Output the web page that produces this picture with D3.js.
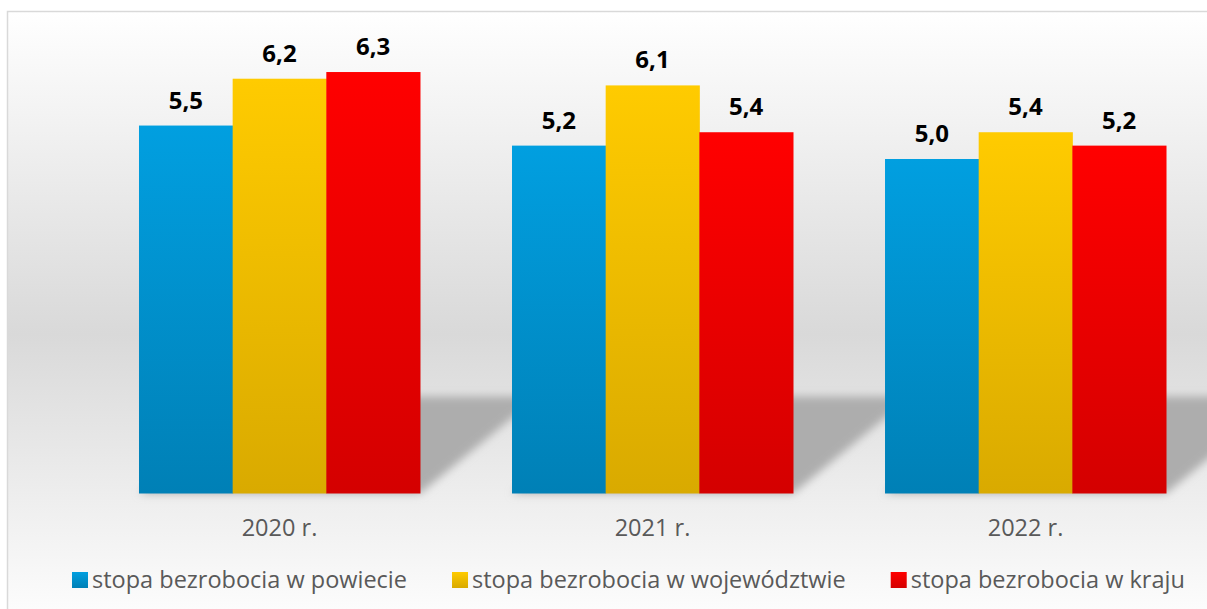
<!DOCTYPE html>
<html>
<head>
<meta charset="utf-8">
<script src="https://cdn.jsdelivr.net/npm/d3@7"></script>
<style>
  body { margin: 0; background: #fff; }
  text { font-family: "Open Sans", sans-serif; }
</style>
</head>
<body>
<script>
var width = 1207, height = 609;

var years = ["2020 r.", "2021 r.", "2022 r."];
var seriesNames = ["stopa bezrobocia w powiecie", "stopa bezrobocia w województwie", "stopa bezrobocia w kraju"];
var powiat = [5.5, 5.2, 5.0];
var wojewodztwo = [6.2, 6.1, 5.4];
var kraj = [6.3, 5.4, 5.2];
var topColors = ["#019fe0", "#ffcb00", "#ff0000"];
var bottomColors = ["#0080b6", "#d9aa00", "#d40000"];

var seriesValues = [powiat, wojewodztwo, kraj];

var svg = d3.select("body")
            .append("svg")
            .attr("width", width)
            .attr("height", height);

var defs = svg.append("defs");

// chart background: white -> grey -> white
var bg = defs.append("linearGradient")
             .attr("id", "bg")
             .attr("gradientUnits", "userSpaceOnUse")
             .attr("x1", 0).attr("y1", 11)
             .attr("x2", 0).attr("y2", 609);
bg.append("stop").attr("offset", "0%").attr("stop-color", "#ffffff");
bg.append("stop").attr("offset", "54%").attr("stop-color", "#d9d9d9");
bg.append("stop").attr("offset", "100%").attr("stop-color", "#fcfcfc");

seriesNames.forEach(function(s, i) {
    var g = defs.append("linearGradient")
                .attr("id", "grad" + i)
                .attr("x1", 0).attr("y1", 0)
                .attr("x2", 0).attr("y2", 1);
    g.append("stop").attr("offset", "0%").attr("stop-color", topColors[i]);
    g.append("stop").attr("offset", "100%").attr("stop-color", bottomColors[i]);
});

defs.append("filter")
    .attr("id", "blur")
    .attr("x", "-20%").attr("y", "-20%")
    .attr("width", "140%").attr("height", "140%")
    .append("feGaussianBlur")
    .attr("stdDeviation", 4.5);

svg.append("rect")
   .attr("x", 7.5)
   .attr("y", 11.5)
   .attr("width", 1230)
   .attr("height", 640)
   .attr("fill", "url(#bg)")
   .attr("stroke", "#d9d9d9")
   .attr("stroke-width", 1.5);

var x0 = d3.scaleBand()
           .domain(years)
           .range([93, 1212])
           .paddingInner(0.2467)
           .paddingOuter(0.1233);

var x1 = d3.scaleBand()
           .domain(d3.range(seriesNames.length))
           .range([0, x0.bandwidth()]);

var y = d3.scaleLinear()
          .domain([0, 7])
          .range([493.5, 25.2]);

// perspective shadow behind each group
var shadowDx = 118, shadowDy = 97;
svg.append("g")
   .attr("filter", "url(#blur)")
   .selectAll("polygon")
   .data(years).enter()
   .append("polygon")
   .attr("fill", "#adadad")
   .attr("points", function(d) {
       var a = x0(d), b = x0(d) + x0.bandwidth(), base = y(0);
       return [[a, base], [b, base], [b + shadowDx, base - shadowDy], [a + shadowDx, base - shadowDy]].join(" ");
   });

var groups = svg.selectAll(".group")
                .data(years).enter()
                .append("g")
                .attr("class", "group")
                .attr("transform", function(d) { return "translate(" + x0(d) + ",0)"; });

groups.selectAll("rect")
      .data(function(d, gi) { return seriesValues.map(function(v, si) { return {s: si, v: v[gi]}; }); })
      .enter()
      .append("rect")
      .attr("x", function(d) { return x1(d.s); })
      .attr("y", function(d) { return y(d.v); })
      .attr("width", x1.bandwidth() + 0.5)
      .attr("height", function(d) { return y(0) - y(d.v); })
      .attr("fill", function(d) { return "url(#grad" + d.s + ")"; });

groups.selectAll(".label")
      .data(function(d, gi) { return seriesValues.map(function(v, si) { return {s: si, v: v[gi]}; }); })
      .enter()
      .append("text")
      .attr("class", "label")
      .attr("x", function(d) { return x1(d.s) + x1.bandwidth() / 2; })
      .attr("y", function(d) { return y(d.v) - 17; })
      .attr("text-anchor", "middle")
      .attr("font-size", 24)
      .attr("font-weight", "bold")
      .attr("fill", "#000")
      .text(function(d) { return d3.format(".1f")(d.v).replace(".", ","); });

// category axis labels
var xAxis = d3.axisBottom(x0).tickSize(0).tickPadding(0);
var axisG = svg.append("g")
               .attr("transform", "translate(0," + 536 + ")")
               .call(xAxis);
axisG.select(".domain").remove();
axisG.selectAll("text")
     .attr("dy", 0)
     .attr("y", 0)
     .attr("font-size", 23.5)
     .attr("font-family", "Open Sans, sans-serif")
     .attr("fill", "#595959");

// legend
var legend = svg.append("g");
var items = legend.selectAll("g")
                  .data(seriesNames).enter()
                  .append("g");
items.append("rect")
     .attr("y", 572)
     .attr("width", 16)
     .attr("height", 16)
     .attr("fill", function(d, i) { return "url(#grad" + i + ")"; });
items.append("text")
     .attr("x", 20)
     .attr("y", 588)
     .attr("font-size", 23.5)
     .attr("fill", "#595959")
     .text(function(d) { return d; });

var lx = 72;
items.each(function() {
    var it = d3.select(this);
    it.attr("transform", "translate(" + lx + ",0)");
    lx += 20 + it.select("text").node().getComputedTextLength() + 45;
});
</script>
</body>
</html>
